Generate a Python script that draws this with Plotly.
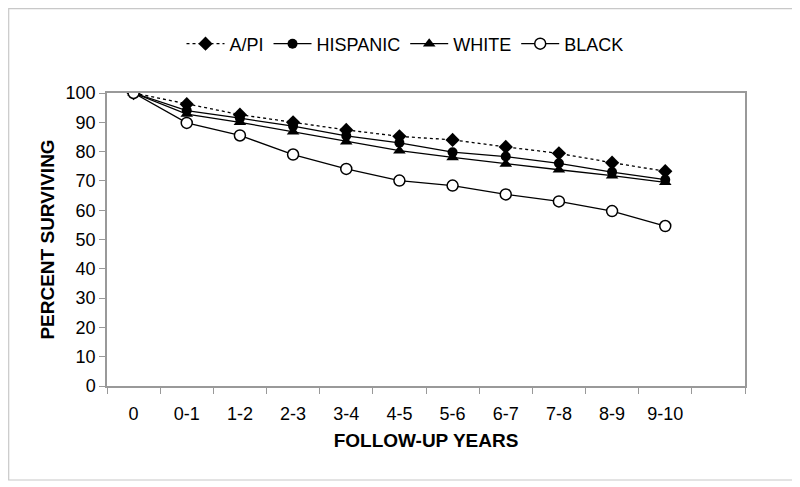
import plotly.graph_objects as go

categories = ["0", "0-1", "1-2", "2-3", "3-4", "4-5", "5-6", "6-7", "7-8", "8-9", "9-10"]
api = [100, 96.2, 92.6, 90.0, 87.4, 85.2, 84.0, 81.6, 79.4, 76.2, 73.3]
hispanic = [100, 94.0, 91.4, 88.7, 85.4, 83.0, 79.8, 78.3, 76.0, 73.0, 70.4]
white = [100, 92.8, 90.0, 86.8, 83.4, 80.3, 78.0, 75.8, 73.8, 71.8, 69.5]
black = [100, 89.8, 85.5, 79.0, 74.1, 70.1, 68.4, 65.4, 63.0, 59.7, 54.6]
yticks = [0, 10, 20, 30, 40, 50, 60, 70, 80, 90, 100]

FONT = "Liberation Sans, Arial, sans-serif"
xpos = list(range(len(categories)))

fig = go.Figure()
fig.add_trace(go.Scatter(x=xpos, y=api, name="A/PI", mode="lines+markers",
                         line=dict(color="black", width=1.3, dash="dot"),
                         marker=dict(symbol="diamond", size=11, color="black")))
fig.add_trace(go.Scatter(x=xpos, y=hispanic, name="HISPANIC", mode="lines+markers",
                         line=dict(color="black", width=1.3),
                         marker=dict(symbol="circle", size=10, color="black")))
fig.add_trace(go.Scatter(x=xpos, y=white, name="WHITE", mode="lines+markers",
                         line=dict(color="black", width=1.3),
                         marker=dict(symbol="triangle-up", size=11, color="black")))
fig.add_trace(go.Scatter(x=xpos, y=black, name="BLACK", mode="lines+markers",
                         line=dict(color="black", width=1.3),
                         marker=dict(symbol="circle", size=11, color="white",
                                     line=dict(color="black", width=1.5))))

# page offset from the browser's default body margin
OFF = 8
L, R, T, B = 107 - OFF, 745 - OFF, 93 - OFF, 386 - OFF
W, H = 800 - OFF, 487 - OFF
pw, ph = R - L, B - T

fig.update_layout(
    width=W, height=H,
    margin=dict(l=L, r=W - R, t=T, b=H - B),
    paper_bgcolor="white", plot_bgcolor="white",
    font=dict(family=FONT, size=18, color="black"),
    showlegend=True,
    legend=dict(orientation="h", x=(405 - OFF - L) / pw, xanchor="center",
                y=(B - (44 - OFF)) / ph, yanchor="middle",
                font=dict(size=18), bgcolor="rgba(0,0,0,0)", itemwidth=38),
    xaxis=dict(
        range=[-0.5, 11.5],
        tickmode="array", tickvals=xpos, ticktext=categories,
        ticks="", showgrid=False, zeroline=False,
        showline=True, linecolor="#999999", linewidth=1.5, mirror=True,
        tickfont=dict(size=18), ticklabelstandoff=11,
        minor=dict(tickmode="array", tickvals=[i - 0.5 for i in range(13)],
                   ticks="outside", ticklen=6, tickcolor="#999999", tickwidth=1,
                   showgrid=False),
        title=dict(text="<b>FOLLOW-UP YEARS</b>", font=dict(size=19), standoff=10),
    ),
    yaxis=dict(
        range=[0, 100],
        tickmode="array", tickvals=yticks,
        ticks="outside", ticklen=6, tickcolor="#999999",
        showgrid=False, zeroline=False,
        showline=True, linecolor="#999999", linewidth=1.5, mirror=True,
        tickfont=dict(size=18),
        title=dict(text="<b>PERCENT SURVIVING</b>", font=dict(size=19), standoff=6),
    ),
)

# outer chart border
fig.add_shape(type="rect", xref="paper", yref="paper",
              x0=(0.7 - L) / pw, x1=(793 - OFF - L) / pw,
              y0=(B - (480 - OFF)) / ph, y1=(B - 0.7) / ph,
              line=dict(color="#c8c8c8", width=1.2), fillcolor="rgba(0,0,0,0)",
              layer="below")

fig.write_html("out.html")
